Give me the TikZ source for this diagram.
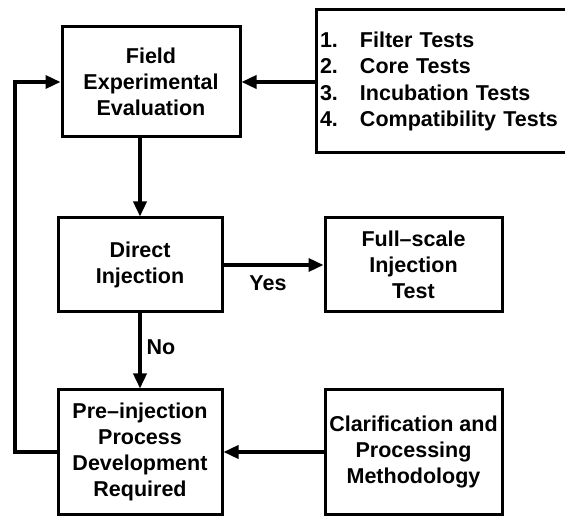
\documentclass[tikz,border=0pt]{standalone}
\usepackage{fontspec}
\setmainfont{Liberation Sans}
\usetikzlibrary{arrows.meta}
\newcommand{\itemnum}[1]{\makebox[40pt][l]{#1}}
\tikzset{
  box/.style={draw, line width=3pt, align=center, inner sep=2pt,
    font=\bfseries\fontsize{21.5}{26}\selectfont},
  arr/.style={line width=3.5pt, -{Triangle[length=15pt,width=13pt]}},
  lbl/.style={font=\bfseries\fontsize{21.5}{26}\selectfont, inner sep=0pt}
}
\begin{document}
\begin{tikzpicture}[x=1pt,y=-1pt]
\useasboundingbox (0,0) rectangle (565,518);
\node[box, minimum width=178pt, minimum height=110pt] (field) at (151,82) {Field\\Experimental\\Evaluation};
\node[box, minimum width=259pt, minimum height=143pt, text width=251pt, align=left, inner xsep=4pt,
  font=\bfseries\fontsize{21.5}{26.5}\selectfont] (tests) at (445.5,81.5)
  {\itemnum{1.}Filter Tests\\\itemnum{2.}Core Tests\\\itemnum{3.}Incubation Tests\\\itemnum{4.}Compatibility Tests};
\node[box, minimum width=164pt, minimum height=94pt] (direct) at (140,265) {Direct\\Injection};
\node[box, minimum width=177pt, minimum height=94pt] (full) at (413.5,265) {Full--scale\\Injection\\Test};
\node[box, minimum width=164pt, minimum height=124pt] (pre) at (140,452) {Pre--injection\\Process\\Development\\Required};
\node[box, minimum width=177pt, minimum height=124pt] (clar) at (413.5,452) {Clarification and\\Processing\\Methodology};
\coordinate (lb) at (15,452);
\coordinate (lt) at (15,82);
\draw[arr] (tests.west |- field.east) -- (field.east);
\draw[arr] (direct.north |- field.south) -- (direct.north);
\draw[arr] (direct.east) -- (full.west);
\draw[arr] (direct.south) -- (pre.north);
\draw[arr] (clar.west) -- (pre.east);
\draw[arr] (pre.west) -- (lb) -- (lt) -- (field.west);
\node[lbl] (yes) at (268,283) {Yes};
\node[lbl] (no) at (161,347) {No};
\end{tikzpicture}
\end{document}
